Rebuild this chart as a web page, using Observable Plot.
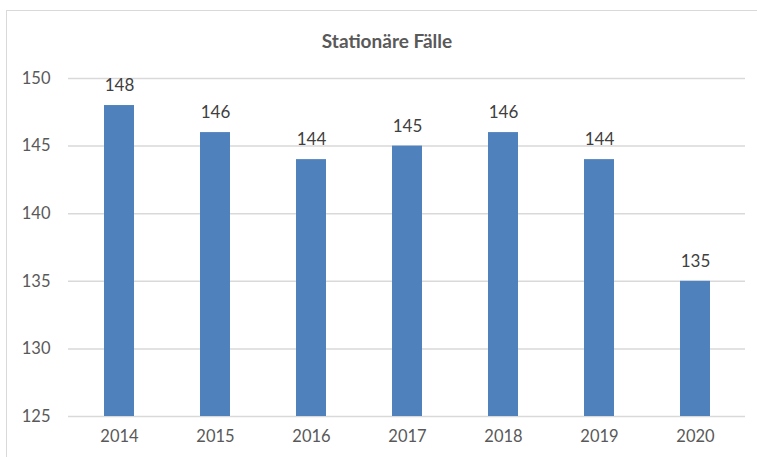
<!DOCTYPE html>
<html>
<head>
<meta charset="utf-8">
<script src="https://cdn.jsdelivr.net/npm/d3@7"></script>
<script src="https://cdn.jsdelivr.net/npm/@observablehq/plot@0.6"></script>
<style>
  html, body { margin: 0; padding: 0; background: #fff; }
  body { width: 757px; height: 457px; overflow: hidden; position: relative; font-family: Lato, "Open Sans", sans-serif; }
  #frame { position: absolute; left: 6px; top: 10px; width: 800px; height: 500px; border: 1px solid #d9d9d9; box-sizing: border-box; }
  #title { position: absolute; left: 0; top: 29px; width: 774px; text-align: center; font-size: 19px; font-weight: bold; color: #595959; line-height: 24px; }
  #chart { position: absolute; left: 0; top: 58px; }
</style>
</head>
<body>
<div id="frame"></div>
<div id="title">Stationäre Fälle</div>
<div id="chart"></div>
<script>
const years = ["2014", "2015", "2016", "2017", "2018", "2019", "2020"];
const cases = [148, 146, 144, 145, 146, 144, 135];
const yTicks = [125, 130, 135, 140, 145, 150];
const yMin = 125, yMax = 150;

const data = years.map((y, i) => ({year: y, value: cases[i]}));

const plot = Plot.plot({
  width: 757,
  height: 399,
  marginLeft: 68,
  marginRight: 12,
  marginTop: 20,
  marginBottom: 41,
  style: {fontFamily: "Lato, 'Open Sans', sans-serif", fontSize: "16.5px", color: "#595959", background: "transparent"},
  x: {domain: years, paddingInner: 0.69, paddingOuter: 0.345, label: null, tickSize: 0, tickPadding: 14},
  y: {domain: [yMin, yMax], ticks: yTicks, label: null, tickSize: 0, tickPadding: 18},
  marks: [
    Plot.ruleY(yTicks, {stroke: "#d9d9d9", strokeWidth: 1.5}),
    Plot.barY(data, {x: "year", y1: yMin, y2: "value", fill: "#4f81bd"}),
    Plot.text(data, {x: "year", y: "value", text: d => String(d.value), dy: -20, fill: "#404040", fontSize: 17})
  ]
});
document.getElementById("chart").appendChild(plot);
</script>
</body>
</html>
